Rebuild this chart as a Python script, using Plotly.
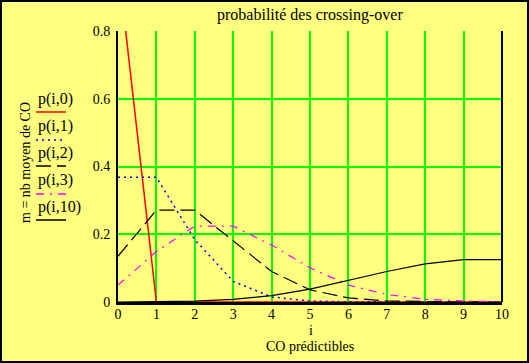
import plotly.graph_objects as go

i_vals = [0, 1, 2, 3, 4, 5, 6, 7, 8, 9, 10]
p_m0 = [1.0, 0, 0, 0, 0, 0, 0, 0, 0, 0, 0]
p_m1 = [0.368, 0.368, 0.184, 0.061, 0.015, 0.003, 0.0005, 0.0001, 0, 0, 0]
p_m2 = [0.135, 0.271, 0.271, 0.180, 0.090, 0.036, 0.012, 0.003, 0.0009, 0.0002, 0]
p_m3 = [0.050, 0.149, 0.224, 0.224, 0.168, 0.101, 0.050, 0.022, 0.008, 0.003, 0.001]
p_m10 = [0.0000, 0.0005, 0.0023, 0.0076, 0.0189, 0.0378, 0.0631, 0.0901, 0.1126, 0.1251, 0.1251]
legend_labels = ["p(i,0)", "p(i,1)", "p(i,2)", "p(i,3)", "p(i,10)"]
x_ticks = [0, 1, 2, 3, 4, 5, 6, 7, 8, 9, 10]
y_ticks = [0, 0.2, 0.4, 0.6, 0.8]

W, H = 529, 363
L, R, T, B = 118, 502, 31, 302
PW, PH = R - L, B - T

def px(x):
    return (x - L) / PW

def py(y):
    return (B - y) / PH

FONT = "Liberation Serif"
BG = "#FFFF80"

styles = [
    dict(color="#FF0000", width=1.5, dash="solid"),
    dict(color="#0000FF", width=1.5, dash="2px,4px"),
    dict(color="#000000", width=1.2, dash="15px,6px"),
    dict(color="#FF00FF", width=1.2, dash="8px,6px,2px,6px"),
    dict(color="#000000", width=1.2, dash="solid"),
]
series = [p_m0, p_m1, p_m2, p_m3, p_m10]

fig = go.Figure()
for ys, st, name in zip(series, styles, legend_labels):
    fig.add_trace(go.Scatter(x=i_vals, y=ys, mode="lines", line=st, name=name,
                             showlegend=False, hoverinfo="skip"))

shapes = []
shapes.append(dict(type="line", xref="paper", yref="paper", x0=1, x1=1, y0=0, y1=1,
                   line=dict(color="black", width=2)))
shapes.append(dict(type="rect", xref="paper", yref="paper",
                   x0=px(1), x1=px(W - 1), y0=py(H - 1), y1=py(1),
                   line=dict(color="black", width=2), layer="above"))

annotations = []
legend_text_y = [99, 126, 153, 180, 207]
legend_line_y = [112, 140, 166, 194, 220]
for lab, ty, ly, st in zip(legend_labels, legend_text_y, legend_line_y, styles):
    annotations.append(dict(text=lab, xref="paper", yref="paper", x=px(36), y=py(ty),
                            xanchor="left", yanchor="middle", showarrow=False,
                            font=dict(family=FONT, size=16, color="black")))
    shapes.append(dict(type="line", xref="paper", yref="paper", x0=px(36), x1=px(66),
                       y0=py(ly), y1=py(ly),
                       line=dict(color=st["color"], width=1.5, dash=st["dash"])))

annotations.append(dict(text="m = nb moyen de CO", xref="paper", yref="paper",
                        x=px(25), y=py(163), textangle=-90, showarrow=False,
                        xanchor="center", yanchor="middle",
                        font=dict(family=FONT, size=14, color="black")))
annotations.append(dict(text="probabilité des crossing-over", xref="paper", yref="paper",
                        x=px(310), y=py(15), showarrow=False, xanchor="center", yanchor="middle",
                        font=dict(family=FONT, size=16, color="black")))
annotations.append(dict(text="i", xref="paper", yref="paper", borderpad=0,
                        x=px(311), y=py(330), showarrow=False, xanchor="center", yanchor="middle",
                        font=dict(family=FONT, size=14, color="black")))
annotations.append(dict(text="CO prédictibles", xref="paper", yref="paper", borderpad=0,
                        x=px(310), y=py(346), showarrow=False, xanchor="center", yanchor="middle",
                        font=dict(family=FONT, size=14, color="black")))

fig.update_layout(
    width=W, height=H,
    margin=dict(l=L, r=W - R, t=T, b=H - B, pad=0),
    paper_bgcolor=BG, plot_bgcolor=BG,
    shapes=shapes, annotations=annotations,
    showlegend=False,
    xaxis=dict(range=[0, 10], tickvals=x_ticks, ticktext=[str(v) for v in x_ticks],
               showgrid=True, gridcolor="#00FF00", gridwidth=1.5,
               showline=True, linecolor="black", linewidth=3,
               zeroline=False, ticks="", ticklen=0, ticklabelstandoff=-3,
               tickfont=dict(family=FONT, size=14, color="black"), fixedrange=True),
    yaxis=dict(range=[0, 0.8], tickvals=y_ticks, ticktext=["0", "0.2", "0.4", "0.6", "0.8"],
               showgrid=True, gridcolor="#00FF00", gridwidth=1.5,
               showline=True, linecolor="black", linewidth=2,
               zeroline=False, ticks="", ticklen=0, ticklabelstandoff=3,
               tickfont=dict(family=FONT, size=14, color="black"), fixedrange=True),
)

fig.write_html("out.html", config={"displayModeBar": False},
               post_script="document.body.style.margin='0px';document.body.style.overflow='hidden';")
